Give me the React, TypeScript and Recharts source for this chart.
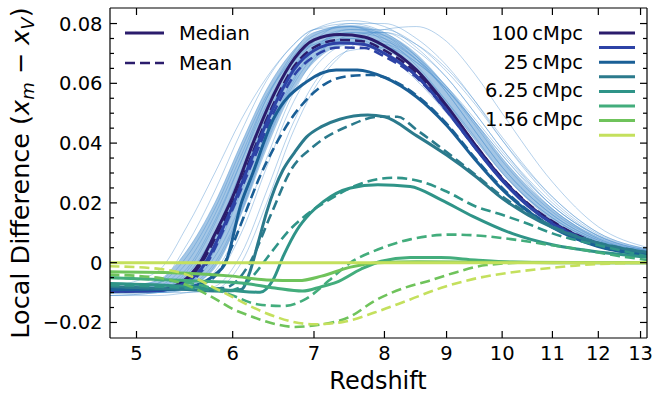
import React from 'react';
import { ComposedChart, Line, Area, XAxis, YAxis } from 'recharts';

const FONT = '"DejaVu Sans", sans-serif';

// redshift grid shared by the ensemble of single realisations
const EZ = [4.75, 5.2, 5.5, 5.8, 6.1, 6.4, 6.7, 7.0, 7.5, 8.0, 8.5, 9.0, 9.5, 10.0, 11.0, 12.0, 13.2];

// thin light-blue realisations (100 cMpc boxes)
const ensemble: number[][] = [
  [-0.008, -0.003, 0.012, 0.03, 0.048, 0.062, 0.072, 0.078, 0.08, 0.077, 0.069, 0.057, 0.044, 0.032, 0.016, 0.0075, 0.0035],
  [-0.009, -0.006, 0.004, 0.02, 0.04, 0.058, 0.07, 0.077, 0.079, 0.075, 0.066, 0.054, 0.041, 0.03, 0.015, 0.007, 0.0033],
  [-0.01, -0.008, 0.0, 0.016, 0.036, 0.055, 0.068, 0.076, 0.079, 0.076, 0.068, 0.057, 0.044, 0.032, 0.016, 0.0075, 0.0035],
  [-0.01, -0.009, -0.004, 0.01, 0.031, 0.052, 0.066, 0.074, 0.078, 0.076, 0.069, 0.059, 0.047, 0.035, 0.018, 0.008, 0.0038],
  [-0.011, -0.01, -0.007, 0.004, 0.024, 0.046, 0.062, 0.072, 0.077, 0.075, 0.068, 0.058, 0.046, 0.034, 0.017, 0.008, 0.0036],
  [-0.009, -0.009, -0.008, -0.001, 0.017, 0.04, 0.058, 0.069, 0.075, 0.074, 0.068, 0.059, 0.048, 0.037, 0.019, 0.009, 0.004],
  [-0.01, -0.01, -0.009, -0.005, 0.01, 0.032, 0.052, 0.065, 0.073, 0.073, 0.067, 0.058, 0.047, 0.036, 0.019, 0.0088, 0.004],
  [-0.011, -0.011, -0.01, -0.008, 0.003, 0.024, 0.045, 0.06, 0.071, 0.072, 0.067, 0.058, 0.047, 0.036, 0.018, 0.0085, 0.0038],
  [-0.009, -0.008, -0.002, 0.014, 0.034, 0.053, 0.066, 0.073, 0.076, 0.073, 0.065, 0.054, 0.042, 0.03, 0.015, 0.007, 0.0032],
  [-0.01, -0.009, -0.003, 0.013, 0.034, 0.055, 0.069, 0.078, 0.081, 0.079, 0.072, 0.062, 0.05, 0.038, 0.02, 0.009, 0.0042],
  [-0.01, -0.009, -0.006, 0.006, 0.026, 0.048, 0.064, 0.074, 0.08, 0.08, 0.075, 0.066, 0.054, 0.041, 0.021, 0.0095, 0.0044],
  [-0.009, -0.009, -0.007, 0.002, 0.02, 0.042, 0.06, 0.071, 0.077, 0.077, 0.071, 0.062, 0.05, 0.038, 0.019, 0.009, 0.004],
  [-0.011, -0.01, -0.005, 0.008, 0.028, 0.049, 0.064, 0.072, 0.075, 0.071, 0.062, 0.051, 0.038, 0.027, 0.013, 0.006, 0.003],
  [-0.01, -0.01, -0.008, 0.0, 0.018, 0.041, 0.059, 0.071, 0.078, 0.078, 0.073, 0.064, 0.053, 0.041, 0.022, 0.01, 0.0045],
  [-0.01, -0.01, -0.009, -0.003, 0.013, 0.035, 0.055, 0.068, 0.076, 0.077, 0.073, 0.065, 0.054, 0.042, 0.022, 0.01, 0.0045],
  [-0.01, -0.007, 0.006, 0.024, 0.044, 0.061, 0.072, 0.078, 0.079, 0.074, 0.064, 0.052, 0.039, 0.028, 0.014, 0.0065, 0.003],
  [-0.01, -0.01, -0.01, -0.009, 0.0, 0.02, 0.042, 0.058, 0.072, 0.078, 0.079, 0.074, 0.063, 0.05, 0.027, 0.012, 0.005],
  [-0.009, -0.007, 0.002, 0.018, 0.038, 0.056, 0.067, 0.073, 0.074, 0.07, 0.061, 0.05, 0.038, 0.027, 0.013, 0.006, 0.003],
];

// dense core of the ensemble
const bandHigh = [-0.008, -0.006, 0.004, 0.02, 0.04, 0.058, 0.07, 0.077, 0.0795, 0.077, 0.07, 0.059, 0.047, 0.035, 0.018, 0.0085, 0.004];
const bandLow = [-0.0105, -0.01, -0.008, -0.002, 0.016, 0.038, 0.056, 0.067, 0.073, 0.071, 0.064, 0.053, 0.041, 0.03, 0.014, 0.0065, 0.003];

const scaleLabels = ['100', '50', '25', '12.5', '6.25', '3.125', '1.56', '0.78'];
const colors = ['#2b1c6c', '#2d42a6', '#1a5f96', '#2b7a8c', '#2f9488', '#43ad7c', '#6fc35b', '#c4e05d'];

type Pt = [number, number];

const med100: Pt[] = [[4.75, -0.0095], [5.2, -0.0093], [5.45, -0.0065], [5.64, 0.0], [5.8, 0.0095], [6.0, 0.022], [6.25, 0.041], [6.5, 0.057], [6.75, 0.0685], [7.0, 0.0745], [7.35, 0.0763], [7.7, 0.0755], [8.0, 0.0725], [8.5, 0.0645], [9.0, 0.0525], [9.5, 0.0395], [10.0, 0.028], [10.5, 0.0195], [11.0, 0.0135], [12.0, 0.0062], [13.2, 0.0029]];
const mean100: Pt[] = [[4.75, -0.0095], [5.2, -0.0092], [5.45, -0.007], [5.66, 0.0], [5.8, 0.008], [6.0, 0.02], [6.25, 0.038], [6.5, 0.054], [6.75, 0.066], [7.0, 0.072], [7.35, 0.0745], [7.7, 0.074], [8.0, 0.071], [8.5, 0.0635], [9.0, 0.052], [9.5, 0.0395], [10.0, 0.0283], [10.5, 0.0198], [11.0, 0.0138], [12.0, 0.0064], [13.2, 0.003]];
const med50: Pt[] = [[4.75, -0.0095], [5.2, -0.0093], [5.5, -0.0065], [5.7, 0.0], [5.85, 0.009], [6.0, 0.019], [6.25, 0.037], [6.5, 0.053], [6.75, 0.065], [7.0, 0.071], [7.35, 0.0735], [7.7, 0.073], [8.0, 0.07], [8.5, 0.0625], [9.0, 0.051], [9.5, 0.0385], [10.0, 0.0275], [10.5, 0.019], [11.0, 0.013], [12.0, 0.006], [13.2, 0.0028]];
const mean50: Pt[] = [[4.75, -0.0095], [5.2, -0.0093], [5.5, -0.007], [5.72, 0.0], [5.85, 0.008], [6.0, 0.018], [6.25, 0.035], [6.5, 0.051], [6.75, 0.063], [7.0, 0.069], [7.35, 0.072], [7.7, 0.0718], [8.0, 0.069], [8.5, 0.062], [9.0, 0.0508], [9.5, 0.0385], [10.0, 0.0278], [10.5, 0.0193], [11.0, 0.0133], [12.0, 0.0062], [13.2, 0.0029]];
const med25: Pt[] = [[4.75, -0.009], [5.3, -0.009], [5.6, -0.0075], [5.8, -0.004], [5.92, 0.0], [6.1, 0.02], [6.22, 0.029], [6.48, 0.048], [6.9, 0.0605], [7.3, 0.0645], [7.6, 0.0645], [8.0, 0.062], [8.5, 0.0555], [9.0, 0.046], [9.5, 0.0345], [10.0, 0.0245], [10.5, 0.0172], [11.0, 0.0118], [12.0, 0.0054], [13.2, 0.0025]];
const mean25: Pt[] = [[4.75, -0.009], [5.3, -0.009], [5.6, -0.0078], [5.85, -0.003], [6.0, 0.006], [6.15, 0.017], [6.32, 0.029], [6.5, 0.039], [6.7, 0.048], [6.9, 0.0545], [7.13, 0.0595], [7.5, 0.0625], [7.8, 0.0628], [8.0, 0.062], [8.5, 0.056], [9.0, 0.0465], [9.5, 0.035], [10.0, 0.025], [10.5, 0.0175], [11.0, 0.012], [12.0, 0.0055], [13.2, 0.0026]];
const med12: Pt[] = [[4.75, -0.008], [5.5, -0.009], [5.9, -0.0095], [6.1, -0.009], [6.2, -0.003], [6.3, 0.007], [6.4, 0.017], [6.5, 0.025], [6.6, 0.031], [6.75, 0.037], [6.9, 0.042], [7.1, 0.0455], [7.35, 0.048], [7.75, 0.0494], [8.0, 0.0488], [8.5, 0.0425], [9.0, 0.036], [9.5, 0.029], [10.0, 0.0215], [10.5, 0.016], [11.0, 0.0118], [12.0, 0.0065], [13.2, 0.0033]];
const mean12: Pt[] = [[4.75, -0.008], [5.5, -0.0088], [5.9, -0.0085], [6.05, -0.006], [6.2, 0.0], [6.45, 0.016], [6.7, 0.031], [7.0, 0.039], [7.5, 0.046], [7.9, 0.0488], [8.2, 0.0488], [8.5, 0.0445], [9.0, 0.037], [9.5, 0.0295], [10.0, 0.0222], [10.5, 0.0165], [11.0, 0.0122], [12.0, 0.0067], [13.2, 0.0034]];
const med6: Pt[] = [[4.75, -0.007], [5.5, -0.008], [6.0, -0.0093], [6.32, -0.0099], [6.48, -0.0056], [6.61, 0.0025], [6.78, 0.011], [6.95, 0.0165], [7.13, 0.0205], [7.5, 0.025], [7.9, 0.0261], [8.4, 0.0255], [8.9, 0.0211], [9.46, 0.0155], [10.2, 0.0097], [11.0, 0.006], [11.6, 0.0044], [13.2, 0.0018]];
const mean6: Pt[] = [[4.75, -0.0075], [5.5, -0.0085], [5.9, -0.0095], [6.1, -0.008], [6.25, -0.004], [6.36, 0.0], [6.5, 0.005], [6.65, 0.01], [6.9, 0.016], [7.2, 0.021], [7.6, 0.026], [8.15, 0.0284], [8.6, 0.027], [9.0, 0.0238], [9.5, 0.0189], [10.0, 0.016], [10.5, 0.013], [11.0, 0.0098], [11.6, 0.0072], [12.0, 0.0058], [13.2, 0.002]];
const med3: Pt[] = [[4.75, -0.005], [5.5, -0.006], [6.1, -0.0068], [6.5, -0.0085], [6.85, -0.0095], [7.1, -0.008], [7.3, -0.0066], [7.65, -0.0022], [7.95, 0.0005], [8.4, 0.0017], [8.9, 0.0017], [9.5, 0.0009], [10.2, 0.0002], [11.0, 0.0], [13.2, 0.0]];
const mean3: Pt[] = [[4.75, -0.005], [5.3, -0.006], [5.65, -0.0075], [6.0, -0.011], [6.3, -0.014], [6.6, -0.0145], [6.9, -0.012], [7.2, -0.006], [7.5, 0.0], [7.9, 0.0044], [8.4, 0.0078], [9.1, 0.0094], [9.6, 0.009], [10.2, 0.0078], [11.0, 0.0058], [11.6, 0.0044], [12.5, 0.0022], [13.2, 0.0008]];
const med1: Pt[] = [[4.75, -0.003], [5.5, -0.0035], [6.0, -0.0045], [6.4, -0.0058], [6.8, -0.006], [7.1, -0.0045], [7.5, -0.0015], [7.9, 0.0], [8.5, 0.0003], [13.2, 0.0]];
const mean1: Pt[] = [[4.75, -0.004], [5.2, -0.005], [5.5, -0.0075], [5.8, -0.012], [6.0, -0.0155], [6.2, -0.0178], [6.5, -0.0205], [6.75, -0.0215], [7.0, -0.021], [7.5, -0.018], [7.85, -0.0128], [8.3, -0.0085], [8.7, -0.0061], [9.2, -0.003], [9.7, -0.0008], [10.5, 0.0], [13.2, 0.0]];
const med078: Pt[] = [[4.75, 0.0], [13.2, 0.0]];
const mean078: Pt[] = [[4.75, -0.0012], [5.2, -0.002], [5.5, -0.004], [5.8, -0.0085], [6.0, -0.0115], [6.2, -0.0145], [6.5, -0.018], [6.8, -0.0202], [7.0, -0.0206], [7.4, -0.0198], [7.85, -0.0167], [8.4, -0.0123], [8.9, -0.0085], [9.46, -0.0055], [10.2, -0.0032], [11.0, -0.0017], [11.6, -0.0008], [12.5, -0.0002], [13.2, 0.0]];

const medians = [med100, med50, med25, med12, med6, med3, med1, med078];
const means = [mean100, mean50, mean25, mean12, mean6, mean3, mean1, mean078];

const xTicks = [5, 6, 7, 8, 9, 10, 11, 12, 13];
const yTicks = [-0.02, -0.015, -0.01, -0.005, 0, 0.005, 0.01, 0.015, 0.02, 0.025, 0.03, 0.035, 0.04, 0.045, 0.05, 0.055, 0.06, 0.065, 0.07, 0.075, 0.08];

const ensRows = EZ.map((z, i) => {
  const row: Record<string, any> = { z, band: [bandLow[i], bandHigh[i]] };
  ensemble.forEach((e, k) => (row['e' + k] = e[i]));
  return row;
});
const toRows = (pts: Pt[]) => pts.map(([z, v]) => ({ z, v }));

const isMajor = (v: number) => Math.abs(v / 0.02 - Math.round(v / 0.02)) < 1e-6;
const fmtY = (v: number) => (Math.abs(v) < 1e-9 ? '0' : (v < 0 ? '\u2212' : '') + Math.abs(v).toFixed(2));

const XTick = (top: boolean) => (p: any) => {
  const { x, y, payload } = p;
  return (
    <g>
      <line x1={x} x2={x} y1={y} y2={top ? y + 7 : y - 7} stroke="#000" strokeWidth={1.2} />
      {!top && (
        <text x={x} y={y + 22} textAnchor="middle" fontSize={19.5} fontFamily={FONT} fill="#000">
          {payload.value}
        </text>
      )}
    </g>
  );
};

const YTick = (right: boolean) => (p: any) => {
  const { x, y, payload } = p;
  const v = payload.value as number;
  const len = isMajor(v) ? 7 : 4;
  return (
    <g>
      <line x1={x} x2={right ? x - len : x + len} y1={y} y2={y} stroke="#000" strokeWidth={1.2} />
      {!right && isMajor(v) && (
        <text x={x - 7.5} y={y + 7} textAnchor="end" fontSize={19.5} fontFamily={FONT} fill="#000">
          {fmtY(v)}
        </text>
      )}
    </g>
  );
};

const X_DOMAIN = [4.755, 13.16];
const Y_DOMAIN = [-0.0252, 0.0852];
const AXIS_LINE = { stroke: '#000', strokeWidth: 1.2 };

export default function App() {
  return (
    <div style={{ position: 'relative', width: 654, height: 395, background: '#fff' }}>
      <style>{'body{margin:0}'}</style>
      <ComposedChart width={654} height={395} data={ensRows} margin={{ top: 3, right: 2, bottom: 27, left: 50 }}>
        <XAxis xAxisId="b" type="number" dataKey="z" scale="log" domain={X_DOMAIN} allowDataOverflow ticks={xTicks}
          interval={0} height={30} tickSize={0} tickMargin={0} tickLine={false} tick={XTick(false)}
          axisLine={AXIS_LINE} />
        <XAxis xAxisId="t" orientation="top" type="number" dataKey="z" scale="log" domain={X_DOMAIN} allowDataOverflow
          ticks={xTicks} interval={0} height={5} tickSize={0} tickMargin={0} tickLine={false} tick={XTick(true)}
          axisLine={AXIS_LINE} />
        <YAxis yAxisId="l" type="number" domain={Y_DOMAIN} allowDataOverflow ticks={yTicks} interval={0} width={60}
          tickSize={0} tickMargin={0} tickLine={false} tick={YTick(false)} axisLine={AXIS_LINE} />
        <YAxis yAxisId="r" orientation="right" type="number" domain={Y_DOMAIN} allowDataOverflow ticks={yTicks}
          interval={0} width={5} tickSize={0} tickMargin={0} tickLine={false} tick={YTick(true)}
          axisLine={AXIS_LINE} />

        <Area xAxisId="b" yAxisId="l" type="monotone" dataKey="band" stroke="none" fill="#4a8dcb" fillOpacity={0.5}
          isAnimationActive={false} />
        {ensemble.map((_, k) => (
          <Line key={'e' + k} xAxisId="b" yAxisId="l" type="monotone" dataKey={'e' + k} stroke="#4f92cf"
            strokeOpacity={0.42} strokeWidth={1} dot={false} activeDot={false} isAnimationActive={false} />
        ))}

        {scaleLabels.map((s, i) => [
          <Line key={'m' + s} xAxisId="b" yAxisId="l" data={toRows(medians[i])} type="monotone" dataKey="v"
            stroke={colors[i]} strokeWidth={3} dot={false} activeDot={false} isAnimationActive={false} />,
          <Line key={'a' + s} xAxisId="b" yAxisId="l" data={toRows(means[i])} type="monotone" dataKey="v"
            stroke={colors[i]} strokeWidth={2.6} strokeDasharray="10 5" dot={false} activeDot={false}
            isAnimationActive={false} />,
        ])}
      </ComposedChart>

      <svg width={654} height={395} style={{ position: 'absolute', left: 0, top: 0, pointerEvents: 'none' }}
        fontFamily={FONT}>
        <text x={378} y={389} textAnchor="middle" fontSize={24} fill="#000">Redshift</text>
        <text transform="translate(29,173) rotate(-90)" textAnchor="middle" fontSize={25.5} fill="#000">
          Local Difference (<tspan fontStyle="italic">x</tspan>
          <tspan fontStyle="italic" fontSize={18} dy={5}>m</tspan>
          <tspan dy={-5}>{' \u2212 '}</tspan>
          <tspan fontStyle="italic">x</tspan>
          <tspan fontStyle="italic" fontSize={18} dy={5}>V</tspan>
          <tspan dy={-5}>)</tspan>
        </text>

        <line x1={125} x2={164} y1={33} y2={33} stroke={colors[0]} strokeWidth={3} />
        <text x={179} y={40} fontSize={19.5} fill="#000">Median</text>
        <line x1={125} x2={164} y1={63} y2={63} stroke={colors[0]} strokeWidth={2.6} strokeDasharray="10 5" />
        <text x={179} y={70} fontSize={19.5} fill="#000">Mean</text>

        {scaleLabels.map((s, i) => (
          <g key={s}>
            <line x1={599} x2={635} y1={33 + i * 14.6} y2={33 + i * 14.6} stroke={colors[i]} strokeWidth={3} />
            {i % 2 === 0 && (
              <text x={583} y={40 + (i / 2) * 28.6} textAnchor="end" fontSize={19.5} fill="#000">
                {s + '\u2009cMpc'}
              </text>
            )}
          </g>
        ))}
      </svg>
    </div>
  );
}
